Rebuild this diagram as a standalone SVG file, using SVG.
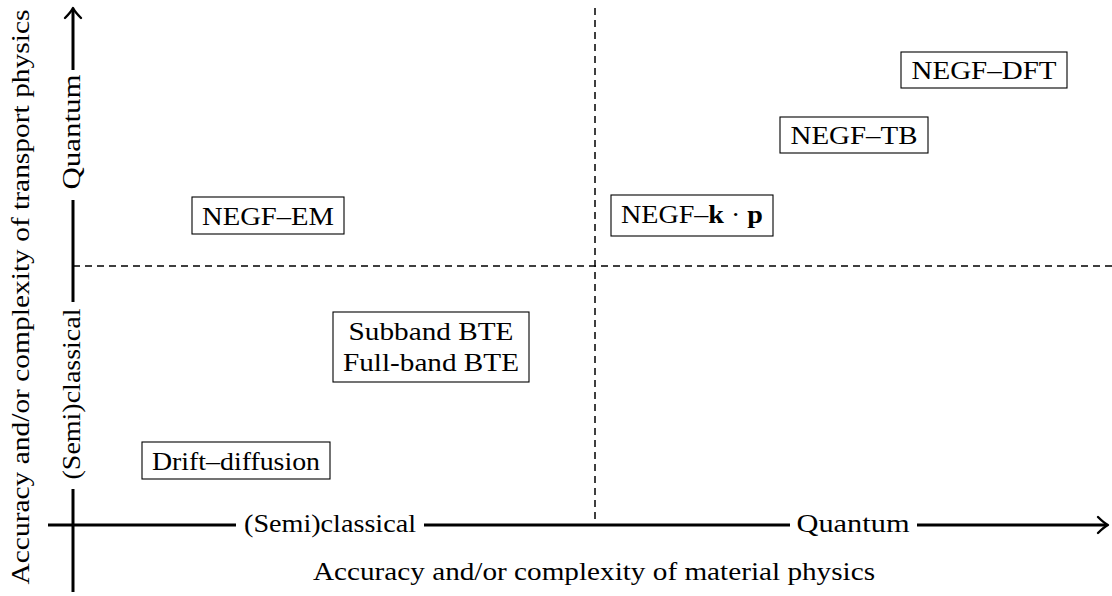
<svg xmlns="http://www.w3.org/2000/svg" width="1112" height="596" viewBox="0 0 1112 596">
<style>
text{font-family:"Liberation Serif","Times New Roman",serif;font-size:26px;fill:#000}
.box{fill:#fff;stroke:#000;stroke-width:1.1}
.axis{stroke:#000;stroke-width:3;fill:none}
.tip{stroke:#000;stroke-width:2.4;fill:none;stroke-linecap:round;stroke-linejoin:round}
.dash{stroke:#000;stroke-width:1.5;stroke-dasharray:7 5;fill:none}
</style>
<rect width="1112" height="596" fill="#fff"/>
<g id="connectors">
<line class="dash" x1="595" y1="8" x2="595" y2="525"/>
<line class="dash" x1="73" y1="266" x2="1112" y2="266"/>
<line class="axis" x1="48" y1="525" x2="236" y2="525"/>
<line class="axis" x1="424" y1="525" x2="790" y2="525"/>
<line class="axis" x1="917" y1="525" x2="1106" y2="525"/>
<path class="tip" d="M1098,517 Q1104,523 1108,525 Q1104,527 1098,533"/>
<line class="axis" x1="73" y1="592" x2="73" y2="489"/>
<line class="axis" x1="73" y1="302" x2="73" y2="200"/>
<line class="axis" x1="73" y1="70" x2="73" y2="10"/>
<path class="tip" d="M65,18 Q71,12 73,8 Q75,12 81,18"/>
</g>
<g id="axis-labels">
<text x="330" y="532" text-anchor="middle" textLength="172" lengthAdjust="spacingAndGlyphs">(Semi)classical</text>
<text x="853" y="532" text-anchor="middle" textLength="113" lengthAdjust="spacingAndGlyphs">Quantum</text>
<text x="594" y="580" text-anchor="middle" textLength="562" lengthAdjust="spacingAndGlyphs">Accuracy and/or complexity of material physics</text>
<text transform="translate(80,132) rotate(-90)" text-anchor="middle" textLength="115" lengthAdjust="spacingAndGlyphs">Quantum</text>
<text transform="translate(80,394) rotate(-90)" text-anchor="middle" textLength="171" lengthAdjust="spacingAndGlyphs">(Semi)classical</text>
<text transform="translate(29,297) rotate(-90)" text-anchor="middle" textLength="575" lengthAdjust="spacingAndGlyphs">Accuracy and/or complexity of transport physics</text>
</g>
<g id="negf-dft">
<rect class="box" x="901" y="52" width="166" height="36"/>
<text x="984" y="79" text-anchor="middle" textLength="145" lengthAdjust="spacingAndGlyphs">NEGF–DFT</text>
</g>
<g id="negf-tb">
<rect class="box" x="780" y="117" width="148" height="36"/>
<text x="854" y="144" text-anchor="middle" textLength="127" lengthAdjust="spacingAndGlyphs">NEGF–TB</text>
</g>
<g id="negf-kp">
<rect class="box" x="611" y="195" width="162" height="41"/>
<text x="692" y="223" text-anchor="middle" textLength="142" lengthAdjust="spacingAndGlyphs">NEGF–<tspan font-weight="bold">k</tspan> · <tspan font-weight="bold">p</tspan></text>
</g>
<g id="negf-em">
<rect class="box" x="192" y="197" width="152" height="37"/>
<text x="268" y="225" text-anchor="middle" textLength="132" lengthAdjust="spacingAndGlyphs">NEGF–EM</text>
</g>
<g id="bte">
<rect class="box" x="333" y="312" width="196" height="70"/>
<text x="431" y="340" text-anchor="middle" textLength="165" lengthAdjust="spacingAndGlyphs">Subband BTE</text>
<text x="431" y="371" text-anchor="middle" textLength="176" lengthAdjust="spacingAndGlyphs">Full-band BTE</text>
</g>
<g id="drift-diffusion">
<rect class="box" x="142" y="442" width="188" height="37"/>
<text x="236" y="470" text-anchor="middle" textLength="168" lengthAdjust="spacingAndGlyphs">Drift–diffusion</text>
</g>
</svg>
